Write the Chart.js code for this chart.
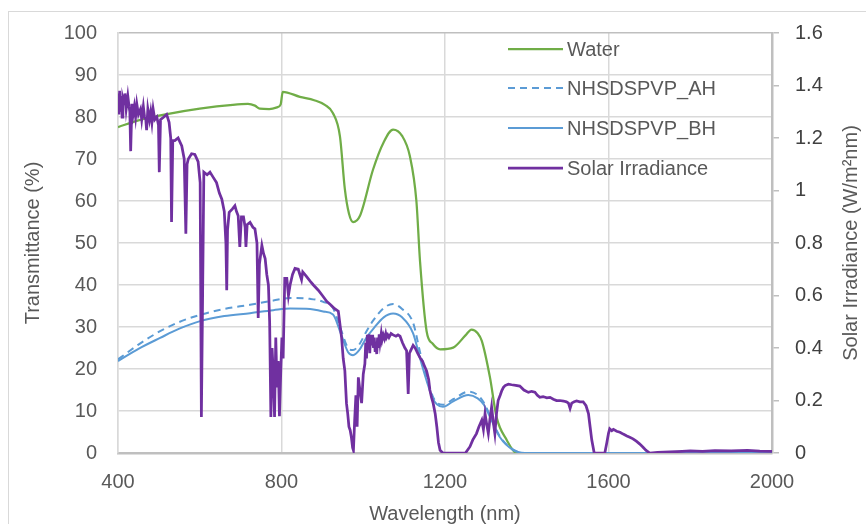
<!DOCTYPE html>
<html>
<head>
<meta charset="utf-8">
<script src="https://cdn.jsdelivr.net/npm/chart.js@4.4.1/dist/chart.umd.min.js"></script>
<style>
  html, body { margin: 0; padding: 0; background: #ffffff; }
  #wrap { width: 866px; height: 524px; }
</style>
</head>
<body>
<div id="wrap"><canvas id="c" width="866" height="524"></canvas></div>
<script>
// ---------------- data ----------------
const xTicks = [400, 800, 1200, 1600, 2000];
const seriesLabels = ["Water", "NHSDSPVP_AH", "NHSDSPVP_BH", "Solar Irradiance"];

const waterNm = [400,450,520,600,681,718,735,747,770,789,798,803,845,880,906,926,943,955,965,975,992,1024,1050,1073,1095,1114,1130,1139,1155,1170,1188,1220,1250,1265,1280,1290,1310,1326,1351,1375,2000];
const waterT  = [77.6,79.2,80.7,82.0,82.9,83.1,82.7,82.0,81.9,82.3,83.0,86.0,84.8,84.0,82.9,80.9,75.4,62.8,57.0,55.0,56.5,67.5,74.0,77.0,75.5,70.7,60.0,45.5,29.0,26.0,24.7,25.1,28.0,29.4,28.5,26.7,18.0,8.6,3.1,0,0];

const bhNm = [400,450,503,550,601,660,723,780,821,870,902,926,945,963,975,990,1008,1024,1050,1073,1095,1122,1139,1155,1170,1180,1195,1220,1257,1280,1295,1310,1334,1367,1400,2000];
const bhT  = [21.9,24.8,27.4,29.6,31.4,32.6,33.3,34.0,34.4,34.3,33.7,33.0,28.5,24.0,23.3,24.5,27.5,29.5,32.3,33.2,32.3,28.5,22.5,17.2,13.0,11.6,11.0,12.3,13.8,13.0,11.5,8.6,3.8,0.7,0,0];

const ahNm = [400,450,503,550,601,660,723,780,821,870,902,926,945,963,975,990,1008,1024,1050,1073,1095,1122,1139,1155,1170,1180,1195,1220,1257,1280,1295,1310,1334,1367,1400,2000];
const ahT  = [22.3,25.8,29.0,31.2,32.9,34.3,35.3,36.3,36.9,36.7,36.0,34.5,29.5,25.0,24.5,25.8,29.0,31.5,34.5,35.5,34.3,31.0,24.0,18.0,13.5,12.0,11.5,12.8,14.6,13.8,12.0,9.0,4.0,0.8,0,0];

const solarNm = [
  400,402,404,406,408,410,412,415,417,420,
  424,427,429,431,434,437,440,443,446,450,
  455,458,462,465,468,470,473,477,480,483,
  486,490,495,499,501,504,512,519,525,529,
  531,534,539,547,556,562,566,569,572,580,
  588,596,601,604,607,610,618,625,633,641,
  648,654,660,664,666,668,672,680,686,690,
  694,698,702,707,711,713,716,723,730,735,
  740,743,746,752,756,760,764,768,771,774,
  777,780,783,786,789,792,795,798,801,804,
  808,813,817,821,827,833,841,845,849,852,
  860,870,878,890,900,911,920,930,939,947,
  951,955,957,959,962,965,968,971,974,976,
  979,982,985,988,991,996,1000,1004,1006,1008,
  1010,1012,1014,1016,1018,1020,1023,1025,1027,1029,
  1031,1033,1035,1037,1039,1041,1044,1046,1049,1052,
  1055,1057,1060,1063,1068,1073,1080,1085,1090,1096,
  1102,1106,1110,1113,1116,1122,1127,1133,1139,1145,
  1150,1155,1160,1163,1167,1171,1176,1180,1184,1188,
  1195,1250,1261,1268,1277,1283,1290,1294,1298,1302,
  1306,1310,1314,1318,1322,1326,1330,1335,1339,1343,
  1347,1355,1363,1373,1383,1393,1404,1412,1420,1426,
  1432,1440,1449,1457,1465,1473,1481,1490,1497,1502,
  1506,1510,1516,1522,1530,1538,1545,1551,1555,1559,
  1565,1591,1596,1600,1603,1608,1612,1620,1628,1636,
  1645,1652,1660,1668,1676,1684,1692,1701,1720,1750,
  1780,1800,1830,1860,1900,1940,1970,2000
];
const solarE = [
  1.37,1.29,1.38,1.30,1.36,1.28,1.35,1.33,1.37,1.31,
  1.36,1.32,1.30,1.15,1.33,1.29,1.32,1.28,1.33,1.29,
  1.31,1.27,1.32,1.28,1.27,1.23,1.31,1.27,1.30,1.26,
  1.31,1.27,1.28,1.25,1.07,1.27,1.28,1.29,1.26,1.20,
  0.88,1.19,1.19,1.20,1.17,1.12,0.835,1.10,1.12,1.14,
  1.137,1.11,1.03,0.137,0.60,1.07,1.06,1.07,1.05,1.03,
  0.99,0.967,0.92,0.80,0.62,0.85,0.917,0.93,0.942,0.92,
  0.904,0.785,0.90,0.90,0.86,0.785,0.87,0.879,0.86,0.854,
  0.80,0.514,0.72,0.791,0.76,0.741,0.68,0.64,0.50,0.137,
  0.40,0.30,0.137,0.44,0.25,0.35,0.14,0.30,0.44,0.36,
  0.665,0.665,0.60,0.64,0.68,0.703,0.70,0.68,0.66,0.69,
  0.675,0.655,0.64,0.62,0.60,0.577,0.565,0.55,0.54,0.44,
  0.36,0.313,0.25,0.189,0.15,0.10,0.087,0.06,0.02,0.01,
  0.125,0.22,0.10,0.288,0.25,0.19,0.30,0.34,0.42,0.36,
  0.45,0.40,0.452,0.38,0.45,0.41,0.45,0.40,0.44,0.39,
  0.42,0.377,0.44,0.40,0.452,0.42,0.455,0.43,0.45,0.435,
  0.455,0.44,0.45,0.44,0.455,0.45,0.445,0.45,0.445,0.42,
  0.40,0.39,0.225,0.38,0.39,0.41,0.40,0.38,0.363,0.35,
  0.33,0.313,0.28,0.24,0.212,0.19,0.15,0.10,0.04,0.01,
  0.0,0.0,0.024,0.05,0.074,0.10,0.125,0.09,0.15,0.11,
  0.074,0.13,0.175,0.12,0.074,0.15,0.20,0.22,0.238,0.25,
  0.257,0.262,0.26,0.258,0.255,0.24,0.231,0.235,0.232,0.22,
  0.212,0.215,0.21,0.212,0.205,0.20,0.20,0.198,0.195,0.19,
  0.17,0.19,0.195,0.198,0.195,0.195,0.18,0.15,0.10,0.05,
  0.0,0.0,0.04,0.075,0.092,0.085,0.09,0.083,0.079,0.072,
  0.065,0.06,0.054,0.045,0.035,0.023,0.01,0.0,0.002,0.004,
  0.006,0.008,0.006,0.009,0.008,0.010,0.007,0.006
];

// ---------------- style ----------------
const FONT = '"Liberation Sans", Arial, sans-serif';
const GREEN = '#70AD47', BLUE = '#5B9BD5', PURPLE = '#7030A0';
const GRID = '#d9d9d9', AXIS = '#bfbfbf', TXT = '#595959', TXT2 = '#404040';

function pts(xs, ys) { return xs.map((x, i) => ({ x: x, y: ys[i] })); }

const legendPlugin = {
  id: 'customLegend',
  afterDraw(chart) {
    const ctx = chart.ctx;
    const x0 = 508, x1 = 563, tx = 567;
    const rows = [49, 88, 128, 168];
    ctx.save();
    chart.data.datasets.forEach((ds, i) => {
      const y = rows[i];
      ctx.beginPath();
      ctx.strokeStyle = ds.borderColor;
      ctx.lineWidth = ds.borderWidth;
      ctx.setLineDash(ds.borderDash || []);
      ctx.moveTo(x0, y); ctx.lineTo(x1, y);
      ctx.stroke();
      ctx.setLineDash([]);
      ctx.fillStyle = TXT;
      ctx.font = '20px ' + FONT;
      ctx.textAlign = 'left';
      ctx.textBaseline = 'middle';
      ctx.fillText(ds.label, tx, y + 1);
    });
    // right axis title (reads bottom-to-top)
    ctx.translate(851, 243);
    ctx.rotate(-Math.PI / 2);
    ctx.fillStyle = TXT;
    ctx.font = '20px ' + FONT;
    ctx.textAlign = 'center';
    ctx.textBaseline = 'middle';
    ctx.fillText('Solar Irradiance (W/m\u00B2nm)', 0, 0);
    ctx.restore();
  }
};

const bgPlugin = {
  id: 'bg',
  beforeDraw(chart) {
    const ctx = chart.ctx;
    ctx.save();
    ctx.fillStyle = '#ffffff';
    ctx.fillRect(0, 0, chart.width, chart.height);
    ctx.strokeStyle = '#d9d9d9';
    ctx.lineWidth = 1;
    ctx.strokeRect(8.5, 11.5, 900, 600);
    ctx.restore();
  }
};

new Chart(document.getElementById('c'), {
  type: 'line',
  data: {
    datasets: [
      { label: seriesLabels[0], data: pts(waterNm, waterT), yAxisID: 'y', borderColor: GREEN, borderWidth: 2.25, pointRadius: 0, cubicInterpolationMode: 'monotone', order: 3 },
      { label: seriesLabels[1], data: pts(ahNm, ahT), yAxisID: 'y', borderColor: BLUE, borderWidth: 2, borderDash: [7, 5], pointRadius: 0, cubicInterpolationMode: 'monotone', order: 2 },
      { label: seriesLabels[2], data: pts(bhNm, bhT), yAxisID: 'y', borderColor: BLUE, borderWidth: 2, pointRadius: 0, cubicInterpolationMode: 'monotone', order: 1 },
      { label: seriesLabels[3], data: pts(solarNm, solarE), yAxisID: 'y1', borderColor: PURPLE, borderWidth: 2.75, pointRadius: 0, tension: 0, order: 0 }
    ]
  },
  options: {
    responsive: false,
    animation: false,
    layout: { padding: { top: 29, left: 0, right: 0, bottom: 0 } },
    plugins: { legend: { display: false }, tooltip: { enabled: false } },
    scales: {
      x: {
        type: 'linear', min: 400, max: 2000,
        afterBuildTicks(scale) { scale.ticks = xTicks.map(v => ({ value: v })); },
        afterFit(scale) { scale.height = 71; },
        grid: { color: GRID, lineWidth: 1.5, drawTicks: false },
        border: { display: true, color: AXIS, width: 2.5 },
        ticks: { padding: 17, color: TXT, font: { family: FONT, size: 20 }, maxRotation: 0, callback: (v) => String(v) },
        title: { display: true, text: 'Wavelength (nm)', color: TXT, font: { family: FONT, size: 20, lineHeight: 1 }, padding: { top: 0, bottom: 0 } }
      },
      y: {
        position: 'left', min: 0, max: 100,
        ticks: { stepSize: 10, padding: 21, color: TXT, font: { family: FONT, size: 20 }, callback: (v) => String(v) },
        afterFit(scale) { scale.width = 118; },
        grid: { color: (c) => (c.tick && c.tick.value === 100 ? AXIS : GRID), lineWidth: 1.5, drawTicks: false },
        border: { display: true, color: GRID, width: 1.5 },
        title: { display: true, text: 'Transmittance (%)', color: TXT, font: { family: FONT, size: 20, lineHeight: 1 }, padding: { top: 23, bottom: 0 } }
      },
      y1: {
        position: 'right', min: 0, max: 1.6,
        ticks: { stepSize: 0.2, padding: 16, color: TXT2, font: { family: FONT, size: 20 }, callback: (v) => String(Math.round(v * 10) / 10) },
        afterFit(scale) { scale.width = 94; },
        grid: { drawOnChartArea: false, drawTicks: true, tickLength: 7, tickColor: AXIS, lineWidth: 1.5 },
        border: { display: true, color: AXIS, width: 2.5 }
      }
    }
  },
  plugins: [bgPlugin, legendPlugin]
});
</script>
</body>
</html>
